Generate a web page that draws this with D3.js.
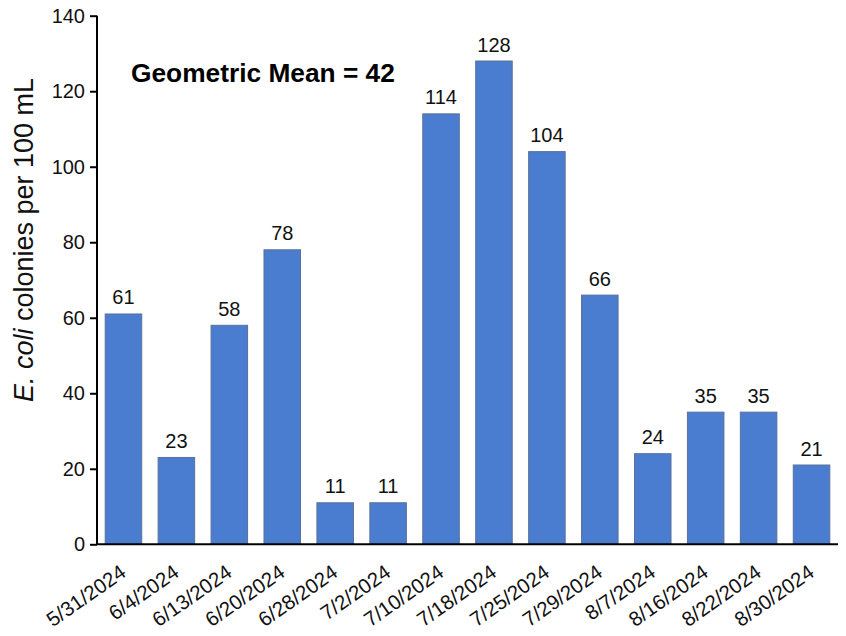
<!DOCTYPE html>
<html><head><meta charset="utf-8">
<script src="https://cdn.jsdelivr.net/npm/d3@7"></script>
<style>body{margin:0;background:#fff}svg{display:block}text{font-family:"Liberation Sans",Arial,sans-serif}</style>
</head><body>
<svg id="c" width="846" height="636"></svg>
<script>
const dates = ["5/31/2024","6/4/2024","6/13/2024","6/20/2024","6/28/2024","7/2/2024","7/10/2024","7/18/2024","7/25/2024","7/29/2024","8/7/2024","8/16/2024","8/22/2024","8/30/2024"];
const values = [61,23,58,78,11,11,114,128,104,66,24,35,35,21];
const yTicks = [0,20,40,60,80,100,120,140];
const annotation = "Geometric Mean = 42";

const svg = d3.select("#c");
const x = d3.scaleBand().domain(dates).range([97,838]).paddingInner(0.31).paddingOuter(0.155);
const y = d3.scaleLinear().domain([0,140]).range([544.3,15.7]);

// bars
svg.append("g").selectAll("rect").data(values).join("rect")
  .attr("x",(d,i)=>x(dates[i])).attr("width",x.bandwidth())
  .attr("y",d=>y(d)).attr("height",d=>y(0)-y(d))
  .attr("fill","#4a7dcf").attr("stroke","#5a7099").attr("stroke-width",1);

// value labels
svg.append("g").selectAll("text").data(values).join("text")
  .attr("x",(d,i)=>x(dates[i])+x.bandwidth()/2).attr("y",d=>y(d)-9.5)
  .attr("text-anchor","middle").attr("font-size",20).attr("fill","#111").text(d=>d);

// y axis
const ya = svg.append("g").attr("transform","translate(97,0)")
  .call(d3.axisLeft(y).tickValues(yTicks).tickSize(7).tickPadding(5));
ya.select(".domain").attr("stroke","#000").attr("stroke-width",2).attr("d","M0,"+y(140)+"V"+y(0));
ya.selectAll(".tick line").attr("stroke","#000").attr("stroke-width",2);
ya.selectAll(".tick text").attr("font-size",20).attr("fill","#111").attr("font-family","Liberation Sans, Arial, sans-serif");

// x axis
const xa = svg.append("g").attr("transform","translate(0,"+y(0)+")")
  .call(d3.axisBottom(x).tickSize(0).tickPadding(0));
xa.select(".domain").attr("stroke","#000").attr("stroke-width",2).attr("d","M97,0H838");
xa.selectAll(".tick text").attr("font-size",20.5).attr("fill","#111")
  .attr("font-family","Liberation Sans, Arial, sans-serif")
  .attr("text-anchor","end").attr("dy",0)
  .attr("transform","translate(4,31) rotate(-35)");

// y label
const yl = svg.append("text").attr("transform","translate(33,240) rotate(-90)")
  .attr("text-anchor","middle").attr("font-size",27).attr("fill","#111");
yl.append("tspan").attr("font-style","italic").text("E. coli");
yl.append("tspan").text(" colonies per 100 mL");

// annotation
svg.append("text").attr("x",131).attr("y",82).attr("font-size",26.3).attr("font-weight","bold")
  .attr("fill","#000").text(annotation);
</script>
</body></html>
